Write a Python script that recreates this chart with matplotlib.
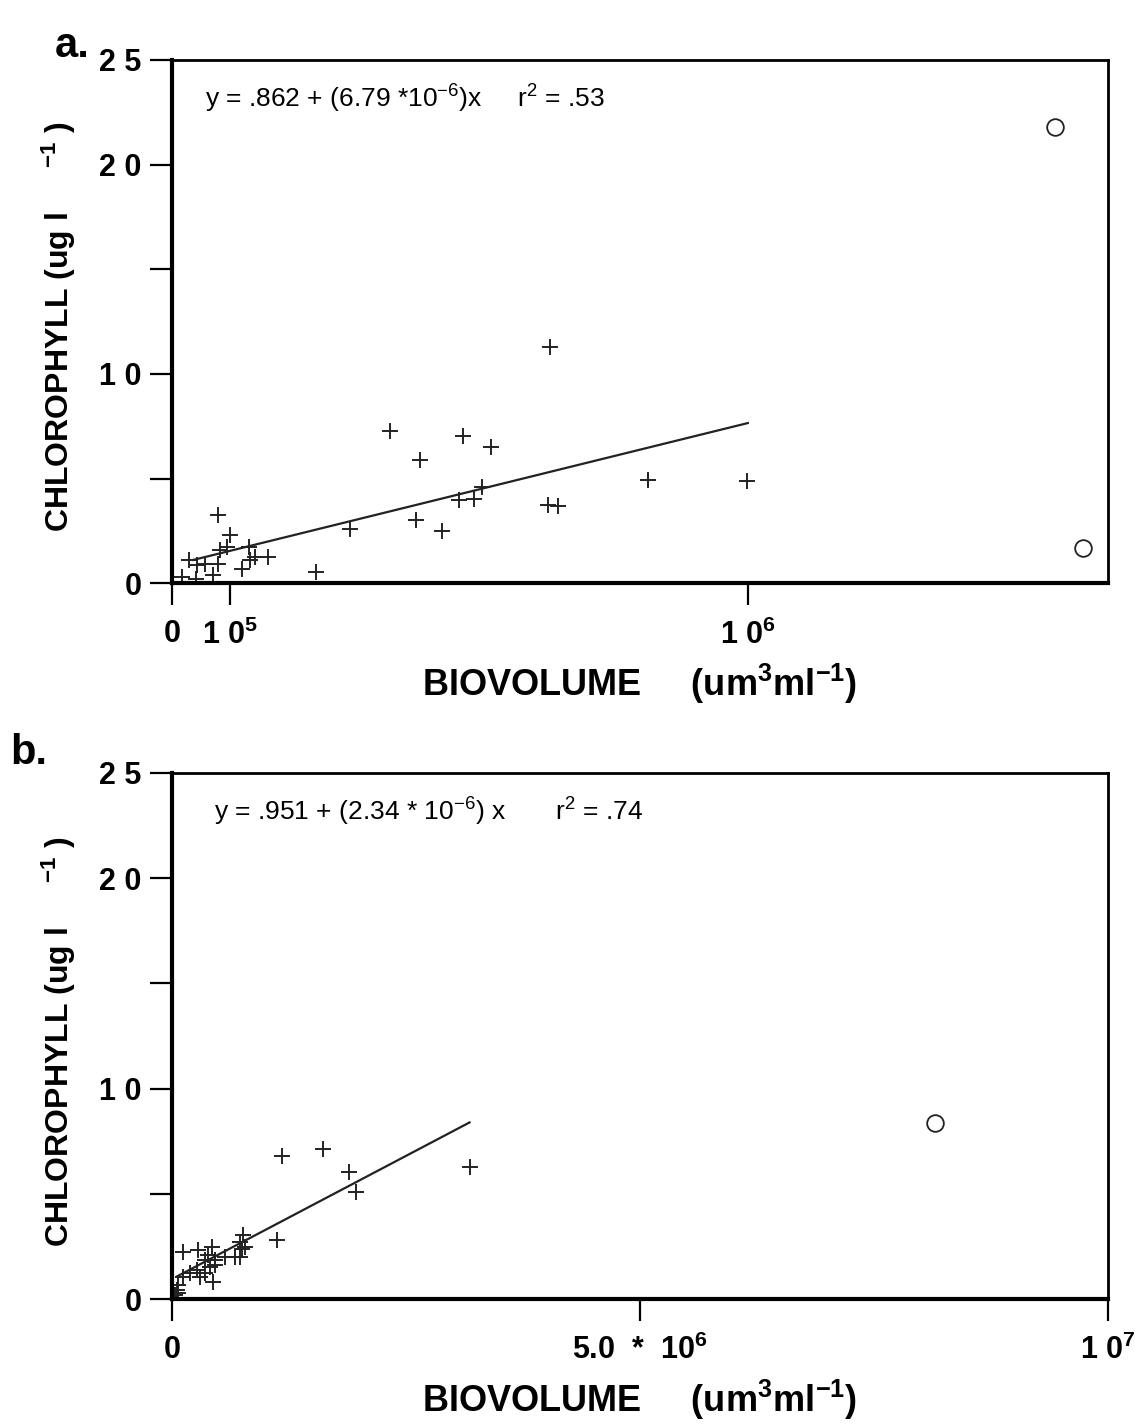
import matplotlib
matplotlib.use("Agg")
import matplotlib.pyplot as plt
import numpy as np

plt.rcParams['font.family'] = ['Liberation Sans', 'DejaVu Sans']
plt.rcParams['mathtext.fontset'] = 'custom'
plt.rcParams['mathtext.rm'] = 'Liberation Sans'
plt.rcParams['mathtext.bf'] = 'Liberation Sans:bold'
plt.rcParams['mathtext.it'] = 'Liberation Sans:italic'

# panel a data (biovolume um3/ml, chlorophyll ug/l)
a_x = [16800, 30000, 41700, 42900, 57300, 70700, 80400, 80400, 83300, 95000,
       100700, 121000, 134200, 135400, 144100, 167200, 250000, 309000, 378500,
       423600, 430600, 469300, 498800, 505700, 524300, 538700, 553300, 653300,
       656300, 669600, 826900, 997700]
a_y = [0.30, 1.10, 0.22, 0.86, 0.94, 0.38, 3.25, 0.94, 1.58, 1.74,
       2.29, 0.70, 1.74, 1.10, 1.26, 1.26, 0.54, 2.61, 7.28,
       3.01, 5.91, 2.50, 3.97, 7.03, 4.02, 4.60, 6.52, 3.73,
       11.30, 3.68, 4.92, 4.89]
a_out_x = [1.533e6, 1.582e6]
a_out_y = [21.8, 1.7]
a_fit = (0.862, 6.79e-6)
a_fit_range = [37000, 1.0e6]

# panel b data
b_x = [32000, 50000, 68000, 68000, 121000, 121000, 192000, 263000, 275000, 299000,
       353000, 353000, 388000, 406000, 424000, 441000, 459000, 459000, 566000,
       673000, 726000, 726000, 745000, 762000, 780000, 1118000, 1179000, 1617000,
       1891000, 1966000, 3184000]
b_y = [0.19, 0.43, 0.27, 0.67, 2.25, 1.06, 1.22, 1.38, 2.33, 1.06,
       1.85, 1.22, 2.09, 1.54, 2.46, 0.82, 1.85, 1.62, 1.98,
       2.01, 2.01, 2.72, 2.36, 3.04, 2.49, 2.80, 6.80, 7.13,
       6.02, 5.10, 6.29]
b_out_x = [8.15e6]
b_out_y = [8.35]
b_fit = (0.951, 2.34e-6)
b_fit_range = [50000, 3.18e6]

fig = plt.figure(figsize=(11.35, 14.26), dpi=100)
ax_a = fig.add_axes([0.1515, 0.591, 0.8245, 0.367])
ax_b = fig.add_axes([0.1515, 0.089, 0.8245, 0.369])

ylab = r'CHLOROPHYLL (ug l     $^{\mathbf{-1}}$ )'
xlab = r'BIOVOLUME     (um$^{\mathbf{3}}$ml$^{\mathbf{-1}}$)'


def style(ax, xmax, xticks, xticklabels):
    ax.set_xlim(0, xmax)
    ax.set_ylim(0, 25)
    ax.set_yticks([0, 5, 10, 15, 20, 25])
    ax.set_yticklabels(['0', '', '1 0', '', '2 0', '2 5'], fontsize=22, fontweight='bold')
    ax.set_xticks(xticks)
    ax.set_xticklabels(xticklabels, fontsize=22, fontweight='bold')
    ax.tick_params(axis='both', direction='out', length=16, width=1.6)
    ax.tick_params(axis='y', pad=6)
    ax.tick_params(axis='x', pad=10)
    ax.spines['left'].set_linewidth(3)
    ax.spines['bottom'].set_linewidth(3)
    ax.spines['top'].set_linewidth(2)
    ax.spines['right'].set_linewidth(2)
    ax.set_ylabel(ylab, fontsize=23, fontweight='bold')
    ax.yaxis.set_label_coords(-0.1, 0.49)
    ax.set_xlabel(xlab, fontsize=26, fontweight='bold', labelpad=8)


# panel a
ax_a.plot(a_x, a_y, '+', color='#222222', ms=11, mew=1.4)
ax_a.plot(a_out_x, a_out_y, 'o', mfc='none', mec='#222222', ms=12, mew=1.3)
fx = np.array(a_fit_range)
ax_a.plot(fx, a_fit[0] + a_fit[1] * fx, color='#222222', lw=1.6)
style(ax_a, 1.625e6, [0, 1e5, 1e6], ['0', r'1 0$^{\mathbf{5}}$', r'1 0$^{\mathbf{6}}$'])
ax_a.text(0.035, 0.925, r'y = .862 + (6.79 *10$^{\mathrm{-6}}$)x     r$^{\mathrm{2}}$ = .53',
          transform=ax_a.transAxes, fontsize=19, va='center')
fig.text(0.048, 0.968, 'a.', fontsize=30, fontweight='bold', va='center')

# panel b
ax_b.plot(b_x, b_y, '+', color='#222222', ms=11, mew=1.4)
ax_b.plot(b_out_x, b_out_y, 'o', mfc='none', mec='#222222', ms=12, mew=1.3)
fx = np.array(b_fit_range)
ax_b.plot(fx, b_fit[0] + b_fit[1] * fx, color='#222222', lw=1.6)
style(ax_b, 1e7, [0, 5e6, 1e7], ['0', r'5.0  *  10$^{\mathbf{6}}$', r'1 0$^{\mathbf{7}}$'])
ax_b.text(0.045, 0.925, r'y = .951 + (2.34 * 10$^{\mathrm{-6}}$) x       r$^{\mathrm{2}}$ = .74',
          transform=ax_b.transAxes, fontsize=19, va='center')
fig.text(0.009, 0.472, 'b.', fontsize=30, fontweight='bold', va='center')

fig.savefig('out.png', dpi=100)
